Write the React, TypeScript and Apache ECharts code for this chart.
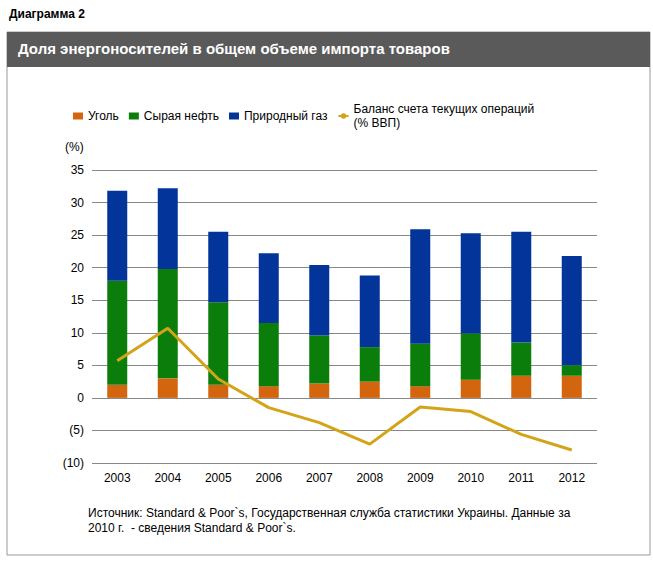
import React, { useEffect, useRef } from "react";
import * as echarts from "echarts";

const years = ["2003", "2004", "2005", "2006", "2007", "2008", "2009", "2010", "2011", "2012"];
const coal = [2, 3, 2, 1.8, 2.2, 2.5, 1.8, 2.8, 3.4, 3.4];
const oil = [16, 16.8, 12.7, 9.7, 7.4, 5.3, 6.5, 7.1, 5.1, 1.6];
const gas = [13.8, 12.4, 10.8, 10.7, 10.8, 11, 17.6, 15.4, 17, 16.8];
const balance = [5.7, 10.7, 2.9, -1.5, -3.8, -7.1, -1.4, -2.1, -5.6, -8];

const font = "Arial, 'Liberation Sans', sans-serif";

const App = () => {
  const chartRef = useRef<HTMLDivElement>(null);

  useEffect(() => {
    document.body.style.margin = "0";
    const chart = echarts.init(chartRef.current as HTMLDivElement, null, { renderer: "svg" });
    const bar = (name: string, data: number[], color: string) => ({
      name,
      type: "bar",
      stack: "total",
      barWidth: 20,
      data,
      itemStyle: { color },
    });
    chart.setOption({
      animation: false,
      backgroundColor: "#fff",
      textStyle: { fontFamily: font },
      graphic: [
        { type: "text", left: 9, top: 8, style: { text: "Диаграмма 2", font: `bold 12px ${font}`, fill: "#000" } },
        { type: "rect", shape: { x: 7, y: 32, width: 643, height: 523 }, style: { fill: "none", stroke: "#999", lineWidth: 1 } },
        { type: "rect", shape: { x: 7, y: 32, width: 643, height: 35 }, style: { fill: "#5a5a5a" } },
        { type: "text", left: 18, top: 41, style: { text: "Доля энергоносителей в общем объеме импорта товаров", font: `bold 15px ${font}`, fill: "#fff" } },
        { type: "text", left: 65, top: 141, style: { text: "(%)", font: `12px ${font}`, fill: "#000" } },
        {
          type: "text", left: 88, top: 505,
          style: {
            text: "Источник: Standard & Poor`s, Государственная служба статистики Украины. Данные за\n2010 г.  - сведения Standard & Poor`s.",
            font: `12px ${font}`, fill: "#000", lineHeight: 15,
          },
        },
      ],
      legend: {
        left: 68,
        top: 97,
        itemWidth: 10,
        itemHeight: 7,
        itemGap: 10,
        textStyle: { fontSize: 12, color: "#000", lineHeight: 14 },
        data: [
          { name: "Уголь", icon: "rect" },
          { name: "Сырая нефть", icon: "rect" },
          { name: "Природный газ", icon: "rect" },
          { name: "Баланс счета текущих операций\n(% ВВП)" },
        ],
      },
      grid: { left: 92, right: 56, top: 170, bottom: 100 },
      xAxis: {
        type: "category",
        data: years,
        axisLine: { show: false },
        axisTick: { show: false },
        axisLabel: { color: "#000", fontSize: 12, margin: 9 },
      },
      yAxis: {
        type: "value",
        min: -10,
        max: 35,
        interval: 5,
        axisLine: { show: false },
        axisLabel: {
          color: "#000",
          fontSize: 12,
          formatter: (v: number) => (v < 0 ? `(${-v})` : `${v}`),
        },
        splitLine: { lineStyle: { color: "#888" } },
      },
      series: [
        bar("Уголь", coal, "#d4650f"),
        bar("Сырая нефть", oil, "#0a7d0a"),
        bar("Природный газ", gas, "#02349a"),
        {
          name: "Баланс счета текущих операций\n(% ВВП)",
          type: "line",
          data: balance,
          symbol: "none",
          lineStyle: { color: "#d4a418", width: 3 },
          itemStyle: { color: "#d4a418" },
        },
      ],
    });
    return () => chart.dispose();
  }, []);

  return <div ref={chartRef} style={{ width: "653px", height: "563px" }} />;
};

export default App;
